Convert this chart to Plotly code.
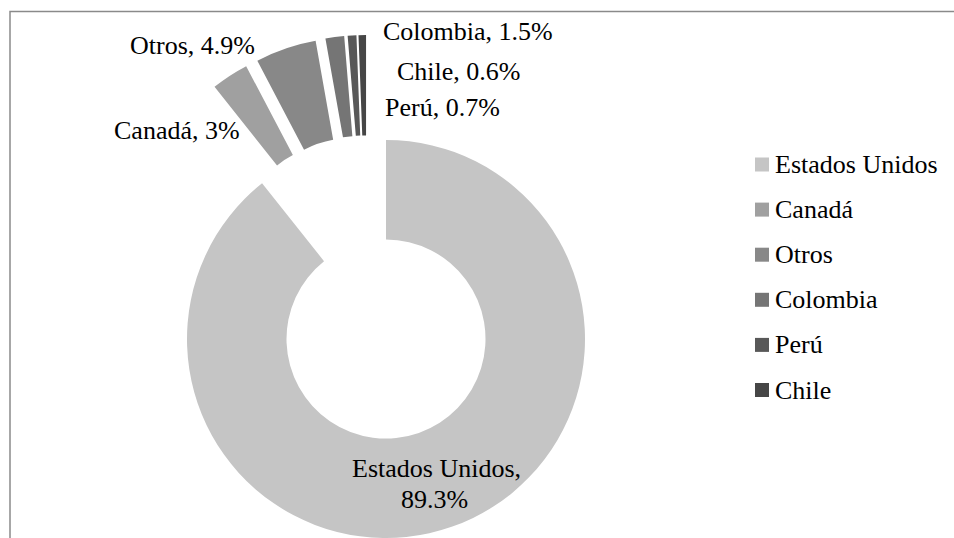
import plotly.graph_objects as go

# ---- data ----
labels = ["Estados Unidos", "Canadá", "Otros", "Colombia", "Perú", "Chile"]
values = [89.3, 3.0, 4.9, 1.5, 0.7, 0.6]
colors = ["#c5c5c5", "#a0a0a0", "#888888", "#757575", "#585858", "#464646"]

W, H = 954, 538
FONT = "Liberation Serif, Times New Roman, serif"
CLEAR = "rgba(0,0,0,0)"


def dom(cx, cy, half):
    """pixel centre/half-size -> paper domain (clamped)"""
    x0, x1 = (cx - half) / W, (cx + half) / W
    y0, y1 = 1 - (cy + half) / H, 1 - (cy - half) / H
    c = lambda v: min(1.0, max(0.0, v))
    return dict(x=[c(x0), c(x1)], y=[c(y0), c(y1)])


common = dict(labels=labels, values=values, sort=False, direction="clockwise",
              rotation=0, hole=0.5, textinfo="none", hoverinfo="label+percent",
              showlegend=False)

fig = go.Figure()

# main (large) slice
fig.add_trace(go.Pie(**common,
                     marker=dict(colors=[colors[0]] + [CLEAR] * (len(labels) - 1), line=dict(width=0)),
                     domain=dom(386, 339, 199)))

# exploded small slices
fig.add_trace(go.Pie(**common,
                     marker=dict(colors=[CLEAR] + colors[1:], line=dict(width=0)),
                     pull=[0] + [0.25] * (len(labels) - 1),
                     domain=dom(367, 286, 251)))

# ---- data labels ----
def lab(i):
    return f"{labels[i]}, {values[i]:g}%"

txt_font = dict(family=FONT, size=26, color="#000000")

ann_specs = [
    (1, 241, 131, "right"),
    (2, 256, 45.5, "right"),
    (3, 382, 31.5, "left"),
    (5, 396, 71, "left"),
    (4, 384, 108, "left"),
]
annotations = []
for i, x, y, anc in ann_specs:
    annotations.append(dict(text=lab(i), x=x / W, y=1 - y / H, xref="paper", yref="paper",
                            xanchor=anc, yanchor="middle", showarrow=False, borderpad=0,
                            font=txt_font))
annotations.append(dict(text=f"{labels[0]},", x=436 / W, y=1 - 468 / H, xref="paper", yref="paper",
                        xanchor="center", yanchor="middle", showarrow=False, borderpad=0,
                        font=txt_font))
annotations.append(dict(text=f"{values[0]:g}%", x=434.5 / W, y=1 - 499 / H, xref="paper", yref="paper",
                        xanchor="center", yanchor="middle", showarrow=False, borderpad=0,
                        font=txt_font))

# ---- legend (drawn as squares + text) ----
shapes = [dict(type="rect", xref="paper", yref="paper",
               x0=10 / W, x1=1.05, y0=-0.05, y1=1 - 11.5 / H,
               line=dict(color="#8a8a8a", width=1.5), fillcolor=CLEAR, layer="below")]
LEG_X, LEG_Y0, LEG_DY, SQ = 755, 164.5, 45.1, 14
for i, name in enumerate(labels):
    yc = LEG_Y0 + i * LEG_DY
    shapes.append(dict(type="rect", xref="paper", yref="paper",
                       x0=LEG_X / W, x1=(LEG_X + SQ) / W,
                       y0=1 - (yc + SQ / 2) / H, y1=1 - (yc - SQ / 2) / H,
                       line=dict(width=0), fillcolor=colors[i]))
    annotations.append(dict(text=name, x=(LEG_X + 19) / W, y=1 - yc / H, xref="paper", yref="paper",
                            xanchor="left", yanchor="middle", showarrow=False, borderpad=0,
                            font=txt_font))

fig.update_layout(
    width=W, height=H,
    margin=dict(l=0, r=0, t=0, b=0),
    paper_bgcolor="#ffffff",
    font=dict(family=FONT, size=26, color="#000000"),
    showlegend=False,
    annotations=annotations,
    shapes=shapes,
)

fig.write_html("out.html")
